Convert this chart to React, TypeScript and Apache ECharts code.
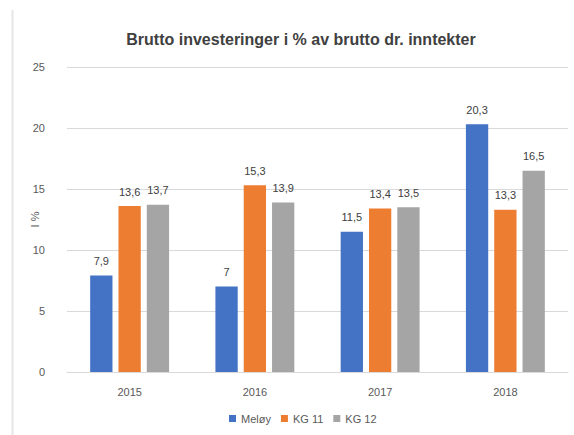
import React, { useEffect, useRef } from "react";
import * as echarts from "echarts";

const categories = ["2015", "2016", "2017", "2018"];
const seriesNames = ["Meløy", "KG 11", "KG 12"];
const meloy = [7.9, 7, 11.5, 20.3];
const kg11 = [13.6, 15.3, 13.4, 13.3];
const kg12 = [13.7, 13.9, 13.5, 16.5];
const colors = ["#4472C4", "#ED7D31", "#A5A5A5"];
const yTicks = { min: 0, max: 25, interval: 5 };

const FONT = "Liberation Sans";

export default function App() {
  const ref = useRef<HTMLDivElement>(null);
  useEffect(() => {
    if (!ref.current) return;
    const chart = echarts.init(ref.current, undefined, { renderer: "svg" });
    const values = [meloy, kg11, kg12];
    chart.setOption({
      animation: false,
      backgroundColor: "#ffffff",
      textStyle: { fontFamily: FONT },
      title: {
        text: "Brutto investeringer i % av brutto dr. inntekter",
        left: 296,
        textAlign: "center",
        top: 26,
        textStyle: { fontSize: 16, fontWeight: "bold", color: "#404040", fontFamily: FONT },
      },
      legend: {
        bottom: 6,
        left: 224,
        itemWidth: 7,
        itemHeight: 7,
        itemGap: 10,
        icon: "rect",
        textStyle: { fontSize: 11, color: "#595959", fontFamily: FONT },
        data: seriesNames,
      },
      grid: { left: 67, right: 6, top: 67, bottom: 63 },
      xAxis: {
        type: "category",
        data: categories,
        axisLine: { lineStyle: { color: "#D9D9D9" } },
        axisTick: { show: false },
        axisLabel: { color: "#595959", fontSize: 11, margin: 14 },
      },
      yAxis: {
        type: "value",
        min: yTicks.min,
        max: yTicks.max,
        interval: yTicks.interval,
        name: "I %",
        nameLocation: "middle",
        nameGap: 27,
        nameMoveOverlap: false,
        nameTextStyle: { color: "#595959", fontSize: 11 },
        axisLine: { show: false },
        axisTick: { show: false },
        axisLabel: { color: "#595959", fontSize: 11, margin: 22 },
        splitLine: { lineStyle: { color: "#D9D9D9" } },
      },
      graphic: [
        {
          type: "line",
          shape: { x1: 12.5, y1: 10, x2: 12.5, y2: 435 },
          style: { stroke: "#E6E6E6", lineWidth: 2 },
        },
      ],
      series: seriesNames.map((name, i) => ({
        name,
        type: "bar",
        data: values[i],
        barGap: "27%",
        barCategoryGap: "37%",
        itemStyle: { color: colors[i] },
        label: {
          show: true,
          position: "top",
          distance: 9,
          color: "#404040",
          fontSize: 11,
          formatter: (p: any) => String(p.value).replace(".", ","),
        },
      })),
    });
    return () => chart.dispose();
  }, []);
  return (
    <div
      ref={ref}
      style={{ position: "fixed", left: 0, top: 0, width: 574, height: 435 }}
    />
  );
}
